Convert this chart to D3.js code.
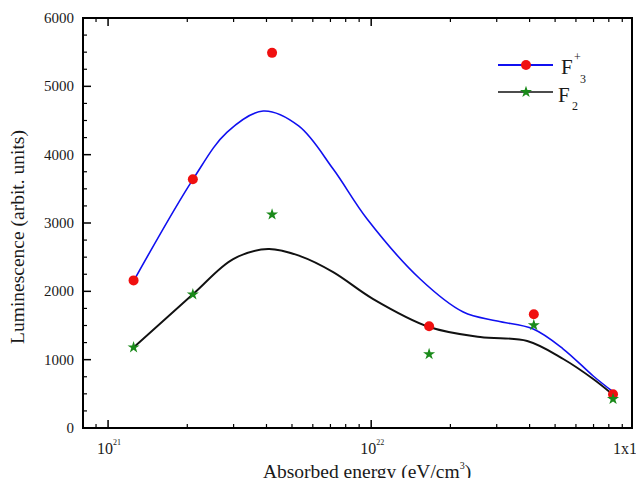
<!DOCTYPE html>
<html><head><meta charset="utf-8">
<script src="https://cdn.jsdelivr.net/npm/d3@7"></script>
<style>html,body{margin:0;padding:0;background:#fff;}svg{display:block;}</style>
</head><body>
<svg id="chart" width="636" height="478"></svg>
<script>
// measured data points
const energy = [1.25e21, 2.1e21, 4.2e21, 1.66e22, 4.15e22, 8.3e22];
const f3plus = [2160, 3640, 5490, 1490, 1665, 495];
const f2 = [1180, 1955, 3125, 1080, 1505, 425];
// fitted curves
const blueFitX = [1.256e21, 2.105e21, 2.835e21, 3.886e21, 5.3e21, 7.17e21, 9.65e21, 1.535e22, 2.238e22, 3.013e22, 4.13e22, 5.37e22, 6.98e22, 8.32e22];
const blueFitY = [2165, 3643, 4330, 4638, 4420, 3789, 3058, 2180, 1697, 1565, 1448, 1156, 761, 527];
const blackFitX = [1.256e21, 2.105e21, 2.988e21, 4.058e21, 5.37e21, 7.17e21, 1.018e22, 1.662e22, 2.596e22, 3.918e22, 5.37e22, 6.98e22, 8.32e22];
const blackFitY = [1185, 1960, 2472, 2619, 2516, 2282, 1887, 1478, 1331, 1273, 1010, 717, 483];
const yTicks = [0, 1000, 2000, 3000, 4000, 5000, 6000];
const xMajor = [1e21, 1e22, 1e23];
const xMajorExp = ["21", "22", "23"];
const xMajorPrefix = ["10", "10", "1x10"];
const legendLabels = [["F", "+", "3"], ["F", "", "2"]];

const svg = d3.select("#chart");
const L = 83, R = 632, T = 18, B = 428;
const x = d3.scaleLog().domain([8.03e20, 9.8e22]).range([L, R]);
const y = d3.scaleLinear().domain([0, 6000]).range([B, T]);
const font = "'Liberation Serif', 'Times New Roman', serif";
const txt = "#1a1a1a";

// curves
const line = d3.line().x(d => x(d[0])).y(d => y(d[1])).curve(d3.curveCatmullRom.alpha(0.5));
svg.append("path").datum(d3.zip(blueFitX, blueFitY)).attr("d", line)
  .attr("fill", "none").attr("stroke", "#1010f0").attr("stroke-width", 1.6);
svg.append("path").datum(d3.zip(blackFitX, blackFitY)).attr("d", line)
  .attr("fill", "none").attr("stroke", "#111").attr("stroke-width", 1.9);

// points
const star = d3.symbol().type(d3.symbolStar).size(45);
svg.selectAll("circle.f3").data(d3.zip(energy, f3plus)).join("circle")
  .attr("cx", d => x(d[0])).attr("cy", d => y(d[1])).attr("r", 5).attr("fill", "#f01010");
svg.selectAll("path.f2").data(d3.zip(energy, f2)).join("path").attr("class", "f2")
  .attr("d", star).attr("transform", d => `translate(${x(d[0])},${y(d[1])})`).attr("fill", "#1a8a1a");

// frame
svg.append("rect").attr("x", L).attr("y", T).attr("width", R - L).attr("height", B - T)
  .attr("fill", "none").attr("stroke", "#000").attr("stroke-width", 2);

// y ticks
const yMinor = d3.range(250, 6000, 250).filter(v => v % 1000 !== 0);
svg.selectAll("line.ymaj").data(yTicks).join("line")
  .attr("x1", L).attr("x2", L + 8).attr("y1", d => y(d)).attr("y2", d => y(d))
  .attr("stroke", "#000").attr("stroke-width", 1.5);
svg.selectAll("line.ymin").data(yMinor).join("line")
  .attr("x1", L).attr("x2", L + 4).attr("y1", d => y(d)).attr("y2", d => y(d))
  .attr("stroke", "#000").attr("stroke-width", 1.2);
svg.selectAll("text.yl").data(yTicks).join("text")
  .attr("x", 74).attr("y", d => y(d) + 5).attr("text-anchor", "end")
  .attr("font-family", font).attr("font-size", 15).attr("fill", txt).text(d => d);

// x ticks
const xMinor = [];
[1e20, 1e21, 1e22].forEach(b => { for (let k = 2; k <= 9; k++) { const v = b * k; if (v > 8.03e20 && v < 9.8e22) xMinor.push(v); } });
const xMajIn = xMajor.filter(v => v < 9.8e22);
[[B, -1], [T, 1]].forEach(([yy, dir]) => {
  svg.append("g").selectAll("line").data(xMajIn).join("line")
    .attr("x1", d => x(d)).attr("x2", d => x(d)).attr("y1", yy).attr("y2", yy + dir * 8)
    .attr("stroke", "#000").attr("stroke-width", 1.5);
  svg.append("g").selectAll("line").data(xMinor).join("line")
    .attr("x1", d => x(d)).attr("x2", d => x(d)).attr("y1", yy).attr("y2", yy + dir * 4)
    .attr("stroke", "#000").attr("stroke-width", 1.2);
});
const xl = svg.selectAll("text.xl").data(xMajor).join("text")
  .attr("x", (d, i) => i === 2 ? 613 : x(d) - 11).attr("y", 454)
  .attr("font-family", font).attr("font-size", 16).attr("fill", txt);
xl.append("tspan").text((d, i) => xMajorPrefix[i]);
xl.append("tspan").attr("font-size", 8).attr("dy", -9).text((d, i) => xMajorExp[i]);

// axis titles
const xt = svg.append("text").attr("x", 367).attr("y", 478).attr("text-anchor", "middle")
  .attr("font-family", font).attr("font-size", 19.5).attr("fill", txt);
xt.append("tspan").text("Absorbed energy (eV/cm");
xt.append("tspan").attr("font-size", 10).attr("dy", -9).text("3");
xt.append("tspan").attr("dy", 9).text(")");
svg.append("text").attr("transform", "translate(24,237) rotate(-90)").attr("text-anchor", "middle")
  .attr("font-family", font).attr("font-size", 19.5).attr("fill", txt).text("Luminescence (arbit. units)");

// legend
const ly = [65, 92];
const colors = ["#1010f0", "#111"];
ly.forEach((yy, i) => {
  svg.append("line").attr("x1", 498).attr("x2", 553).attr("y1", yy).attr("y2", yy)
    .attr("stroke", colors[i]).attr("stroke-width", i === 0 ? 1.8 : 1.6);
});
svg.append("circle").attr("cx", 526).attr("cy", ly[0]).attr("r", 5).attr("fill", "#f01010");
svg.append("path").attr("d", star).attr("transform", `translate(526,${ly[1]})`).attr("fill", "#1a8a1a");
// F3+
svg.append("text").attr("x", 561).attr("y", 74).attr("font-family", font).attr("font-size", 21).attr("fill", txt).text(legendLabels[0][0]);
svg.append("text").attr("x", 574).attr("y", 61).attr("font-family", font).attr("font-size", 12).attr("fill", txt).text(legendLabels[0][1]);
svg.append("text").attr("x", 580).attr("y", 83).attr("font-family", font).attr("font-size", 12).attr("fill", txt).text(legendLabels[0][2]);
// F2
svg.append("text").attr("x", 558).attr("y", 102).attr("font-family", font).attr("font-size", 21).attr("fill", txt).text(legendLabels[1][0]);
svg.append("text").attr("x", 572).attr("y", 110).attr("font-family", font).attr("font-size", 12).attr("fill", txt).text(legendLabels[1][2]);
</script>
</body></html>
